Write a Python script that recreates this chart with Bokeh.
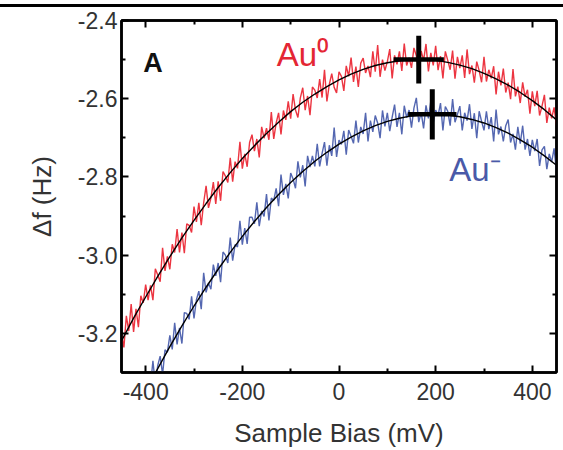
from bokeh.plotting import figure
from bokeh.layouts import column
from bokeh.models import (Range1d, FixedTicker, LinearAxis, Label, NumeralTickFormatter,
                          CustomLabelingPolicy, Div)
from bokeh.embed import file_html
from bokeh.resources import INLINE

# ---------------- data ----------------
bias_mv = [
    -450, -445, -440, -435, -430, -425, -420, -415, -410, -405,
    -400, -395, -390, -385, -380, -375, -370, -365, -360, -355,
    -350, -345, -340, -335, -330, -325, -320, -315, -310, -305,
    -300, -295, -290, -285, -280, -275, -270, -265, -260, -255,
    -250, -245, -240, -235, -230, -225, -220, -215, -210, -205,
    -200, -195, -190, -185, -180, -175, -170, -165, -160, -155,
    -150, -145, -140, -135, -130, -125, -120, -115, -110, -105,
    -100, -95, -90, -85, -80, -75, -70, -65, -60, -55,
    -50, -45, -40, -35, -30, -25, -20, -15, -10, -5,
    0, 5, 10, 15, 20, 25, 30, 35, 40, 45,
    50, 55, 60, 65, 70, 75, 80, 85, 90, 95,
    100, 105, 110, 115, 120, 125, 130, 135, 140, 145,
    150, 155, 160, 165, 170, 175, 180, 185, 190, 195,
    200, 205, 210, 215, 220, 225, 230, 235, 240, 245,
    250, 255, 260, 265, 270, 275, 280, 285, 290, 295,
    300, 305, 310, 315, 320, 325, 330, 335, 340, 345,
    350, 355, 360, 365, 370, 375, 380, 385, 390, 395,
    400, 405, 410, 415, 420, 425, 430, 435, 440, 445,
    450]

# Au0 trace (red), one value per bias_mv entry
au0_df = [
    -3.200, -3.236, -3.155, -3.194, -3.125, -3.196, -3.137, -3.184, -3.104, -3.122,
    -3.075, -3.115, -3.077, -3.115, -3.035, -3.051, -3.068, -2.981, -3.040, -3.003,
    -3.036, -2.972, -2.993, -2.933, -2.993, -2.942, -2.995, -2.920, -2.924, -2.942,
    -2.876, -2.915, -2.866, -2.923, -2.866, -2.823, -2.879, -2.854, -2.813, -2.869,
    -2.811, -2.861, -2.786, -2.798, -2.814, -2.751, -2.812, -2.761, -2.778, -2.710,
    -2.779, -2.741, -2.774, -2.712, -2.692, -2.734, -2.703, -2.750, -2.672, -2.701,
    -2.675, -2.705, -2.634, -2.703, -2.662, -2.636, -2.691, -2.630, -2.654, -2.607,
    -2.651, -2.588, -2.629, -2.648, -2.598, -2.572, -2.629, -2.593, -2.642, -2.570,
    -2.578, -2.598, -2.550, -2.597, -2.526, -2.607, -2.563, -2.536, -2.571, -2.585,
    -2.531, -2.543, -2.580, -2.516, -2.543, -2.495, -2.557, -2.518, -2.570, -2.509,
    -2.496, -2.534, -2.516, -2.545, -2.479, -2.531, -2.463, -2.544, -2.500, -2.528,
    -2.505, -2.473, -2.548, -2.489, -2.512, -2.479, -2.529, -2.459, -2.515, -2.495,
    -2.521, -2.470, -2.490, -2.535, -2.478, -2.502, -2.460, -2.530, -2.483, -2.515,
    -2.465, -2.527, -2.491, -2.548, -2.479, -2.502, -2.526, -2.477, -2.549, -2.493,
    -2.522, -2.489, -2.547, -2.474, -2.537, -2.515, -2.559, -2.505, -2.528, -2.558,
    -2.493, -2.556, -2.526, -2.548, -2.517, -2.589, -2.531, -2.566, -2.523, -2.584,
    -2.559, -2.601, -2.524, -2.594, -2.569, -2.611, -2.558, -2.595, -2.577, -2.638,
    -2.581, -2.619, -2.580, -2.643, -2.619, -2.590, -2.662, -2.623, -2.650, -2.622,
    -2.668]

# Au- trace (blue), bias from -400 mV (bias_mv[10:])
aum_df = [
    -3.370, -3.304, -3.335, -3.270, -3.331, -3.282, -3.258, -3.305, -3.242, -3.248,
    -3.205, -3.241, -3.173, -3.228, -3.186, -3.226, -3.147, -3.149, -3.164, -3.105,
    -3.162, -3.114, -3.092, -3.138, -3.045, -3.095, -3.071, -3.087, -3.024, -3.053,
    -3.020, -3.069, -2.992, -3.000, -3.020, -2.955, -3.014, -2.973, -2.979, -2.912,
    -2.973, -2.931, -2.971, -2.903, -2.903, -2.920, -2.865, -2.926, -2.887, -2.901,
    -2.844, -2.911, -2.854, -2.860, -2.829, -2.875, -2.794, -2.846, -2.818, -2.855,
    -2.790, -2.805, -2.829, -2.760, -2.801, -2.770, -2.824, -2.746, -2.775, -2.746,
    -2.773, -2.715, -2.773, -2.740, -2.711, -2.771, -2.719, -2.746, -2.674, -2.749,
    -2.706, -2.717, -2.682, -2.743, -2.680, -2.696, -2.714, -2.656, -2.712, -2.672,
    -2.690, -2.636, -2.709, -2.656, -2.685, -2.643, -2.662, -2.701, -2.630, -2.671,
    -2.636, -2.683, -2.647, -2.615, -2.672, -2.636, -2.691, -2.618, -2.648, -2.629,
    -2.674, -2.624, -2.598, -2.660, -2.635, -2.676, -2.617, -2.650, -2.606, -2.662,
    -2.629, -2.643, -2.611, -2.681, -2.620, -2.632, -2.669, -2.601, -2.660, -2.640,
    -2.619, -2.681, -2.636, -2.656, -2.614, -2.677, -2.637, -2.701, -2.632, -2.658,
    -2.681, -2.632, -2.678, -2.647, -2.709, -2.628, -2.691, -2.671, -2.709, -2.669,
    -2.653, -2.712, -2.690, -2.730, -2.672, -2.715, -2.669, -2.730, -2.703, -2.746,
    -2.705, -2.734, -2.703, -2.772, -2.731, -2.722, -2.780, -2.741, -2.762, -2.727,
    -2.786]

# parabolic fits (black lines)
fit_bias_mv = [-450, -425, -400, -375, -350, -325, -300, -275, -250, -225,
               -200, -175, -150, -125, -100, -75, -50, -25, 0, 25,
               50, 75, 100, 125, 150, 175, 200, 225, 250, 275,
               300, 325, 350, 375, 400, 425, 450]
au0_fit = [-3.219, -3.161, -3.107, -3.054, -3.004, -2.956, -2.911, -2.868, -2.827, -2.789,
           -2.753, -2.720, -2.689, -2.660, -2.633, -2.609, -2.588, -2.569, -2.552, -2.537,
           -2.525, -2.515, -2.508, -2.503, -2.500, -2.500, -2.502, -2.507, -2.514, -2.523,
           -2.535, -2.549, -2.565, -2.584, -2.605, -2.628, -2.654]
aum_fit = [-3.409, -3.348, -3.290, -3.234, -3.181, -3.130, -3.082, -3.036, -2.993,
           -2.952, -2.914, -2.878, -2.845, -2.814, -2.786, -2.760, -2.737, -2.716, -2.698,
           -2.682, -2.669, -2.658, -2.650, -2.644, -2.641, -2.640, -2.642, -2.646, -2.653,
           -2.662, -2.674, -2.688, -2.705, -2.724, -2.746, -2.770]   # bias fit_bias_mv[1:]

# parabola maxima with error bars (Au0, Au-)
peak_bias_mv = [165, 193]
peak_df = [-2.500, -2.640]
peak_bias_err = [52, 50]
peak_df_err = [0.061, 0.064]

x_major = [-400, -200, 0, 200, 400]
x_minor = [-300, -100, 100, 300]
y_major = [-3.2, -3.0, -2.8, -2.6, -2.4]
y_minor = [-3.1, -2.9, -2.7, -2.5]

# ---------------- styling ----------------
RED = "#ea1f2c"
BLUE = "#4156a8"
FONT = "Liberation Sans"
TXT = "#333333"

p = figure(width=563, height=442, output_backend="svg", toolbar_location=None,
           x_range=Range1d(-450, 450), y_range=Range1d(-3.3, -2.4),
           min_border_left=121, min_border_right=7, min_border_top=12,
           min_border_bottom=76,
           x_axis_label="Sample Bias (mV)", y_axis_label="Δf (Hz)")
p.grid.visible = False
p.background_fill_color = "white"
p.border_fill_color = "white"
p.outline_line_color = "black"
p.outline_line_width = 2.5

p.line(bias_mv, au0_df, line_color=RED, line_width=1.4, line_alpha=0.9)
p.line(bias_mv[10:], aum_df, line_color=BLUE, line_width=1.4, line_alpha=0.9)
p.line(fit_bias_mv, au0_fit, line_color="black", line_width=1.4)
p.line(fit_bias_mv[1:], aum_fit, line_color="black", line_width=1.4)

hx0 = [b - e for b, e in zip(peak_bias_mv, peak_bias_err)]
hx1 = [b + e for b, e in zip(peak_bias_mv, peak_bias_err)]
vy0 = [d - e for d, e in zip(peak_df, peak_df_err)]
vy1 = [d + e for d, e in zip(peak_df, peak_df_err)]
p.segment(x0=hx0, y0=peak_df, x1=hx1, y1=peak_df, line_color="black",
          line_width=4.5, line_cap="butt")
p.segment(x0=peak_bias_mv, y0=vy0, x1=peak_bias_mv, y1=vy1, line_color="black",
          line_width=5, line_cap="butt")


def style_axis(ax):
    ax.axis_line_color = "black"
    ax.axis_line_width = 2.5
    ax.major_tick_line_color = "black"
    ax.minor_tick_line_color = "black"
    ax.major_tick_line_width = 2
    ax.minor_tick_line_width = 2
    ax.major_tick_in = 7
    ax.major_tick_out = 0
    ax.minor_tick_in = 4
    ax.minor_tick_out = 0
    ax.major_label_text_font = FONT
    ax.major_label_text_font_size = "23px"
    ax.major_label_text_color = TXT
    ax.axis_label_text_font = FONT
    ax.axis_label_text_font_size = "26px"
    ax.axis_label_text_font_style = "normal"
    ax.axis_label_text_color = TXT


xt = FixedTicker(ticks=x_major, minor_ticks=x_minor)
yt = FixedTicker(ticks=y_major, minor_ticks=y_minor)

p.xaxis.ticker = xt
p.yaxis.ticker = yt
p.xaxis.formatter = NumeralTickFormatter(format="0")
p.yaxis.formatter = NumeralTickFormatter(format="0.0")
style_axis(p.xaxis[0])
style_axis(p.yaxis[0])
p.xaxis.major_label_standoff = 10
p.yaxis.major_label_standoff = 4
p.xaxis.axis_label_standoff = 15
p.yaxis.axis_label_standoff = 18

no_labels = CustomLabelingPolicy(code="""
    const all = Array.from(indices)
    for (const i of all) { indices.unset(i) }
    return indices
""")
top = LinearAxis(ticker=xt)
right = LinearAxis(ticker=yt)
for ax in (top, right):
    style_axis(ax)
    ax.major_label_text_font_size = "1px"
    ax.major_label_standoff = 0
    ax.major_label_policy = no_labels
p.add_layout(top, "above")
p.add_layout(right, "right")

p.add_layout(Label(x=-405, y=-2.508, text="A", text_font=FONT, text_font_size="27px",
                   text_font_style="bold", text_color="#111111",
                   text_baseline="alphabetic"))
p.add_layout(Label(x=-129, y=-2.488, text="Au⁰", text_font=FONT, text_font_size="33px",
                   text_color="#e42634", text_baseline="alphabetic"))
p.add_layout(Label(x=228, y=-2.780, text="Au⁻", text_font=FONT, text_font_size="33px",
                   text_color="#4a5aa8", text_baseline="alphabetic"))

rule = Div(text="", width=563, height=3, margin=(4, 0, 1, 0),
           styles={"background-color": "black"})
layout = column(rule, p, spacing=0)

open("out.html", "w").write(file_html(layout, INLINE))
